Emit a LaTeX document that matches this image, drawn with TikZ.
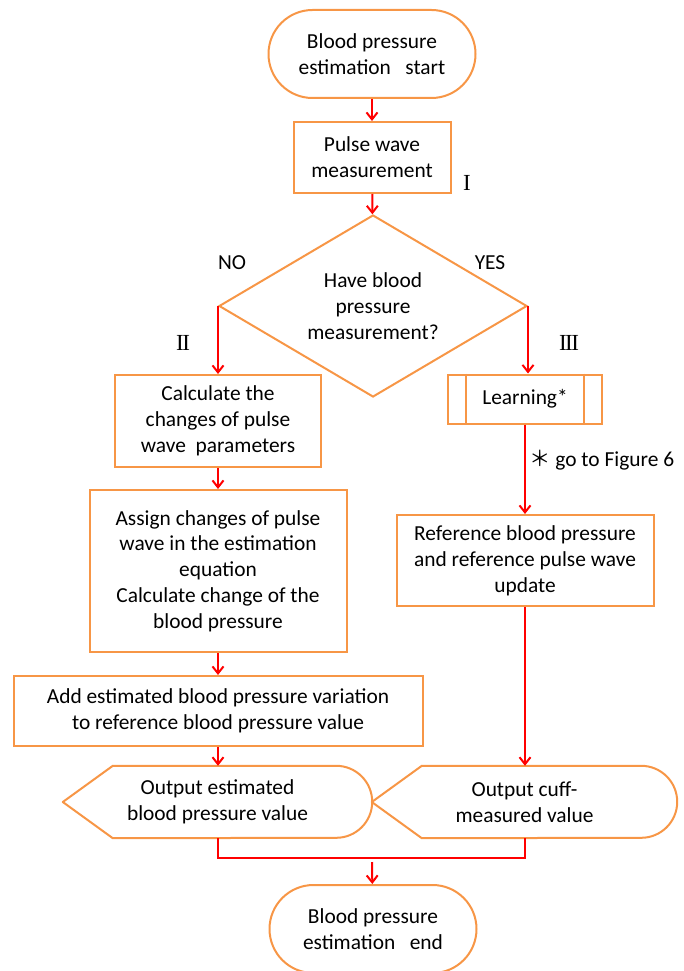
\documentclass[tikz,border=0pt]{standalone}
\usepackage{fontspec}
\setmainfont{Carlito}
\newfontfamily\cjk{Noto Sans CJK JP}
\newfontfamily\numfont{Liberation Serif}
\usetikzlibrary{shapes.geometric,shapes.misc,arrows.meta}

\definecolor{boxorange}{RGB}{247,150,70}
\definecolor{flowred}{RGB}{255,0,0}

\begin{document}
\begin{tikzpicture}[x=1pt,y=-1pt,
  every node/.style={font=\fontsize{21.4}{25.8}\selectfont, align=center, inner sep=0pt},
  term/.style={draw=boxorange, line width=2pt, rounded rectangle, minimum width=207pt, minimum height=88pt},
  proc/.style={draw=boxorange, line width=2pt, rectangle},
  dec/.style={draw=boxorange, line width=2pt, diamond, shape aspect=1.7, minimum width=308pt, minimum height=182pt},
  disp/.style={draw=boxorange, line width=2pt, line join=round},
  flow/.style={draw=flowred, line width=2pt},
  arr/.style={flow, -{Straight Barb[length=7pt,width=11pt]}},
  roman/.style={font=\numfont\fontsize{23}{25}\selectfont}]

\newcommand\LX{218}  % left column
\newcommand\RX{525}  % right column

\useasboundingbox (0,0) rectangle (683,971);

\node[term] (start) at (372,54) {Blood pressure\\estimation~~~start};
\node[proc, minimum width=157pt, minimum height=71pt] (pulse) at (372,157.5) {Pulse wave\\measurement};
\node[dec] (ask) at (373,306) {Have blood\\pressure\\measurement?};

% NO branch
\node[proc, minimum width=206pt, minimum height=92pt] (calc) at (\LX,421) {Calculate the\\changes of pulse\\wave~ parameters};
\node[proc, minimum width=257pt, minimum height=162pt] (assign) at (\LX,571) {Assign changes of pulse\\wave in the estimation\\equation\\Calculate change of the\\blood pressure};
\node[proc, minimum width=409pt, minimum height=70pt] (add) at (\LX,711) {Add estimated blood pressure variation\\to reference blood pressure value};
\node[minimum width=309pt, minimum height=72pt] (oute) at (217.5,802) {Output estimated\\blood pressure value};

% YES branch
\node[proc, minimum width=154pt, minimum height=49pt] (learn) at (\RX,399) {Learning*};
\node[proc, minimum width=257pt, minimum height=91pt] (ref) at (\RX,560.5) {Reference blood pressure\\and reference pulse wave\\update};
\node[minimum width=305pt, minimum height=72pt] (outc) at (524.5,802) {Output cuff-\\measured value};

\node[term] (finish) at (373,929) {Blood pressure\\estimation~~~end};

% display shapes
\draw[disp] (oute.west) -- ([xshift=50pt]oute.north west) -- ([xshift=-36pt]oute.north east)
  arc[start angle=90, end angle=-90, radius=36pt] -- ([xshift=50pt]oute.south west) -- cycle;
\draw[disp] (outc.west) -- ([xshift=50pt]outc.north west) -- ([xshift=-36pt]outc.north east)
  arc[start angle=90, end angle=-90, radius=36pt] -- ([xshift=50pt]outc.south west) -- cycle;
% side bars of learning
\draw[disp] ([xshift=19pt]learn.north west) -- ([xshift=19pt]learn.south west);
\draw[disp] ([xshift=-19pt]learn.north east) -- ([xshift=-19pt]learn.south east);

% labels
\node (no) at (232,263) {NO};
\node (yes) at (490,263) {YES};
\node[roman] (one) at (467,183) {I};
\node[roman] (two) at (183,343) {I\kern-1.5pt I};
\node[roman] (three) at (569,343) {I\kern-1.5pt I\kern-1.5pt I};
\node[anchor=west] (note) at (529,460) {{\cjk ＊} go to Figure 6};

% connectors
\draw[arr] (start) -- (pulse);
\draw[arr] (pulse) -- (ask);
\draw[arr] (ask.west) -- (ask.west |- calc.north);
\draw[arr] (ask.east) -- (ask.east |- learn.north);
\draw[arr] (calc) -- (assign);
\draw[arr] (assign) -- (add);
\draw[arr] (add.south) -- (add.south |- oute.north);
\draw[arr] (learn) -- (ref);
\draw[arr] (ref.south) -- (ref.south |- outc.north);

\coordinate (join) at (372,858);
\draw[flow] (oute.south) |- (join) -| (outc.south);
\draw[arr] ([yshift=-4pt]join) -- (finish);

\end{tikzpicture}
\end{document}
